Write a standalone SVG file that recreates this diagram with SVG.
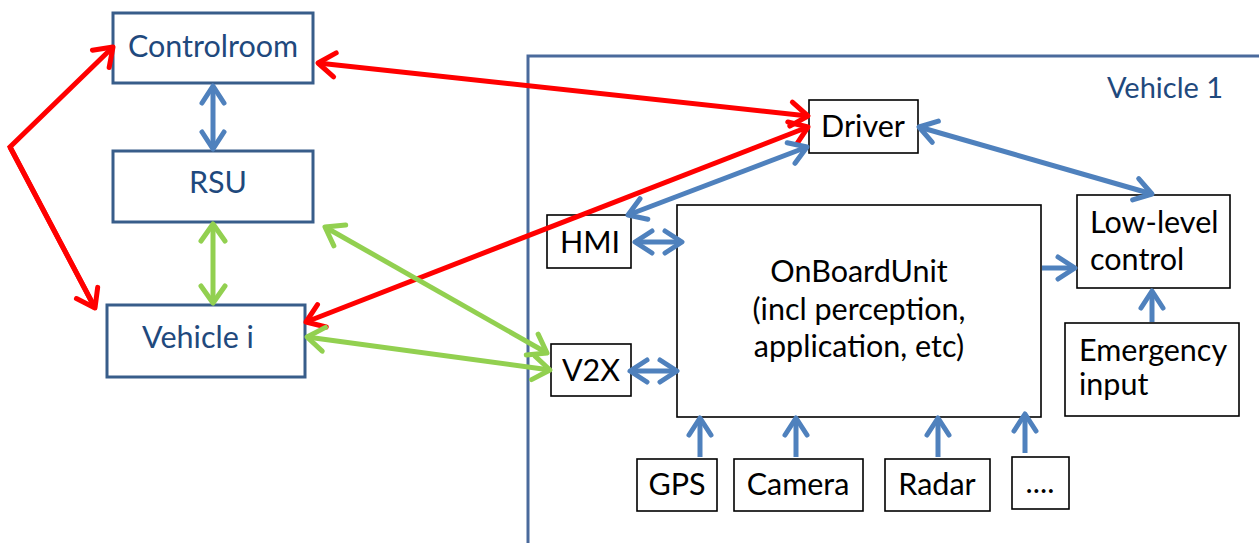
<svg xmlns="http://www.w3.org/2000/svg" width="1259" height="543" viewBox="0 0 1259 543">
  <style>
    text { font-family: Lato, "Liberation Sans", sans-serif; font-size: 30.5px; }
    .lbl-blue { fill: #1F497D; text-anchor: middle; }
    .lbl-black { fill: #000; text-anchor: middle; }
    .lbl-left { fill: #000; text-anchor: start; }
    .box-blue { fill: #fff; stroke: #385D8A; stroke-width: 3; }
    .box-black { fill: #fff; stroke: #000; stroke-width: 1.6; }
    .frame { fill: none; stroke: #4A6A9C; stroke-width: 3; }
    .red { fill: none; stroke: #FF0000; stroke-width: 5; marker-start: url(#ah-red); marker-end: url(#ah-red); }
    .red-end { fill: none; stroke: #FF0000; stroke-width: 5; stroke-linejoin: miter; marker-end: url(#ah-red); }
    .green { fill: none; stroke: #92D050; stroke-width: 5; marker-start: url(#ah-green); marker-end: url(#ah-green); }
    .blue2 { fill: none; stroke: #4F81BD; stroke-width: 5; marker-start: url(#ah-blue); marker-end: url(#ah-blue); }
    .blue1 { fill: none; stroke: #4F81BD; stroke-width: 5; marker-end: url(#ah-blue); }
  </style>
  <defs>
    <marker id="ah-red" viewBox="-22 -16 26 32" markerWidth="26" markerHeight="32" refX="0" refY="0" markerUnits="userSpaceOnUse" orient="auto-start-reverse">
      <path d="M-17,-12 L0,0 L-17,12" fill="none" stroke="#FF0000" stroke-width="5" stroke-linecap="round" stroke-linejoin="round"/>
    </marker>
    <marker id="ah-green" viewBox="-22 -16 26 32" markerWidth="26" markerHeight="32" refX="0" refY="0" markerUnits="userSpaceOnUse" orient="auto-start-reverse">
      <path d="M-17,-12 L0,0 L-17,12" fill="none" stroke="#92D050" stroke-width="5" stroke-linecap="round" stroke-linejoin="round"/>
    </marker>
    <marker id="ah-blue" viewBox="-22 -16 26 32" markerWidth="26" markerHeight="32" refX="0" refY="0" markerUnits="userSpaceOnUse" orient="auto-start-reverse">
      <path d="M-17,-11 L0,0 L-17,11" fill="none" stroke="#4F81BD" stroke-width="5" stroke-linecap="round" stroke-linejoin="round"/>
    </marker>
  </defs>

  <rect width="1259" height="543" fill="#fff"/>

  <!-- vehicle 1 boundary -->
  <g id="vehicle1-frame">
    <path class="frame" d="M528,543 V56 H1259"/>
    <text x="1165" y="98" class="lbl-blue" style="font-size:29px">Vehicle 1</text>
  </g>

  <!-- nodes -->
  <g id="controlroom">
    <rect class="box-blue" x="113" y="13" width="200" height="70"/>
    <text x="213" y="57" class="lbl-blue">Controlroom</text>
  </g>
  <g id="rsu">
    <rect class="box-blue" x="113" y="151" width="200" height="71"/>
    <text x="218" y="193" class="lbl-blue">RSU</text>
  </g>
  <g id="vehicle-i">
    <rect class="box-blue" x="107" y="305" width="198" height="72"/>
    <text x="198" y="348" class="lbl-blue">Vehicle i</text>
  </g>
  <g id="driver">
    <rect class="box-black" x="809" y="100" width="109" height="53"/>
    <text x="863" y="137" class="lbl-black">Driver</text>
  </g>
  <g id="hmi">
    <rect class="box-black" x="547" y="215" width="84" height="53"/>
    <text x="590" y="253" class="lbl-black">HMI</text>
  </g>
  <g id="v2x">
    <rect class="box-black" x="551" y="344" width="80" height="52"/>
    <text x="591" y="381" class="lbl-black">V2X</text>
  </g>
  <g id="onboardunit">
    <rect class="box-black" x="677" y="205" width="364" height="212"/>
    <text x="859" y="282" class="lbl-black">OnBoardUnit</text>
    <text x="859" y="320" class="lbl-black">(incl perception,</text>
    <text x="859" y="357" class="lbl-black">application, etc)</text>
  </g>
  <g id="low-level-control">
    <rect class="box-black" x="1077" y="195" width="153" height="93"/>
    <text x="1090" y="233" class="lbl-left">Low-level</text>
    <text x="1090" y="270" class="lbl-left">control</text>
  </g>
  <g id="emergency-input">
    <rect class="box-black" x="1065" y="323" width="174" height="93"/>
    <text x="1079" y="361" class="lbl-left">Emergency</text>
    <text x="1079" y="395" class="lbl-left">input</text>
  </g>
  <g id="gps">
    <rect class="box-black" x="637" y="459" width="80" height="52"/>
    <text x="677" y="495" class="lbl-black">GPS</text>
  </g>
  <g id="camera">
    <rect class="box-black" x="734" y="459" width="129" height="52"/>
    <text x="798" y="495" class="lbl-black">Camera</text>
  </g>
  <g id="radar">
    <rect class="box-black" x="885" y="459" width="105" height="52"/>
    <text x="937" y="495" class="lbl-black">Radar</text>
  </g>
  <g id="more-sensors">
    <rect class="box-black" x="1012" y="457" width="57" height="52"/>
    <text x="1040" y="493" class="lbl-black">....</text>
  </g>

  <!-- connectors -->
  <g id="connectors">
    <!-- red: human communication -->
    <path class="red-end" d="M95,308 L10,147 L113,47"/>
    <path class="red-end" d="M10,147 L95,308"/>
    <line class="red" x1="318" y1="63" x2="808" y2="116"/>
    <line class="red" x1="306" y1="322" x2="808" y2="127"/>
    <!-- green: V2X links -->
    <line class="green" x1="213" y1="224" x2="213" y2="303"/>
    <line class="green" x1="325" y1="227" x2="547" y2="353"/>
    <line class="green" x1="307" y1="337" x2="550" y2="370"/>
    <!-- blue: wired links -->
    <line class="blue2" x1="213" y1="86" x2="213" y2="149"/>
    <line class="blue2" x1="628" y1="215" x2="807" y2="147"/>
    <line class="blue2" x1="919" y1="127" x2="1152" y2="194"/>
    <line class="blue2" x1="635" y1="242" x2="682" y2="242"/>
    <line class="blue2" x1="630" y1="371" x2="677" y2="371"/>
    <line class="blue1" x1="1042" y1="268" x2="1075" y2="268"/>
    <line class="blue1" x1="1152" y1="322" x2="1152" y2="291"/>
    <line class="blue1" x1="700" y1="457" x2="700" y2="418"/>
    <line class="blue1" x1="796" y1="457" x2="796" y2="418"/>
    <line class="blue1" x1="938" y1="457" x2="938" y2="418"/>
    <line class="blue1" x1="1025" y1="453" x2="1025" y2="414"/>
  </g>
</svg>
